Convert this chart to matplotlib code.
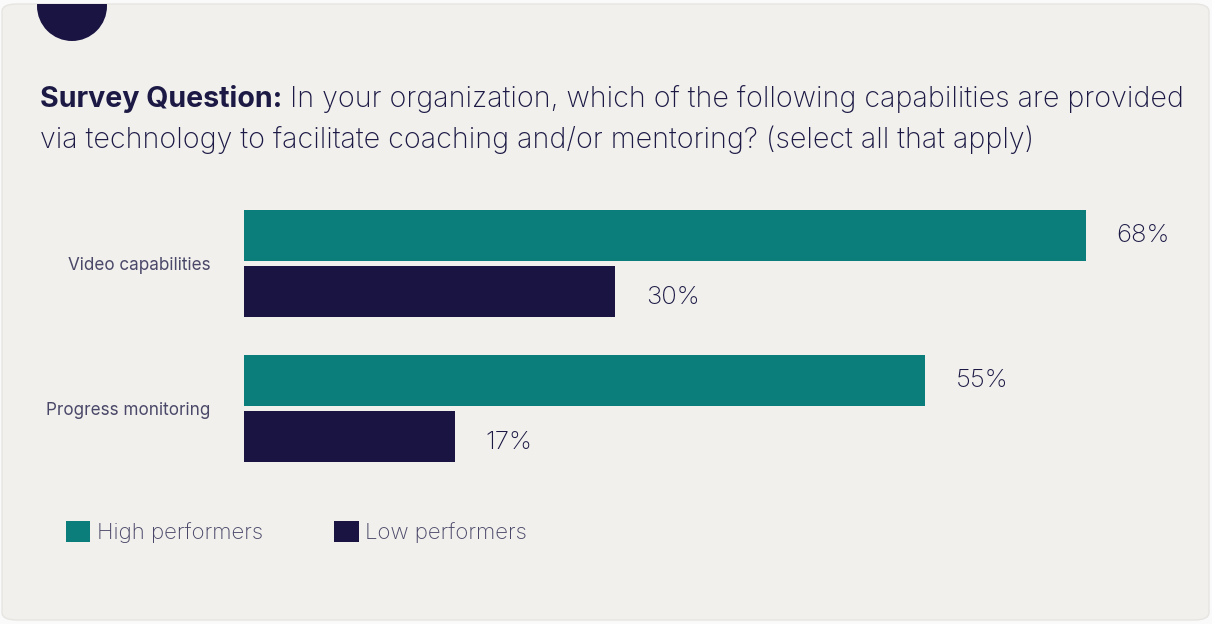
"""Survey chart: technology capabilities for coaching / mentoring, high vs low performers."""

import matplotlib.pyplot as plt
from matplotlib.patches import Ellipse, FancyBboxPatch, Patch

# ── Data ──────────────────────────────────────────────────────────────
categories = ["Video capabilities", "Progress monitoring"]
series_names = ["High performers", "Low performers"]
high_values = [68, 55]
low_values = [30, 17]

# ── Style ─────────────────────────────────────────────────────────────
TEAL = "#0b7d7a"
NAVY = "#1a1442"
TEXT = "#1c1a45"
SUBTEXT = "#4a4868"
CARD = "#f1f0ed"
FONT = ["Inter", "Roboto", "DejaVu Sans"]

plt.rcParams["font.family"] = FONT

W, H = 1212, 624
fig = plt.figure(figsize=(W / 100, H / 100), dpi=100)
fig.patch.set_facecolor("#fafafa")


def fx(px):
    return px / W


def fy(py):
    return 1 - py / H


# card background
card = FancyBboxPatch((fx(2), fy(620)), fx(1207), (616) / H,
                      boxstyle="round,pad=0,rounding_size=0.012",
                      transform=fig.transFigure, facecolor=CARD,
                      edgecolor="#e6e5e2", linewidth=1.0, zorder=0)
fig.add_artist(card)

dot = Ellipse((fx(72), fy(6)), fx(70), 70 / H, transform=fig.transFigure,
              facecolor=NAVY, edgecolor="none", zorder=1)
fig.add_artist(dot)
dot.set_clip_path(card)

# ── Title ─────────────────────────────────────────────────────────────
TITLE_FS = 20.6
t1 = fig.text(fx(40), fy(107), "Survey Question:", fontsize=TITLE_FS,
              fontweight="bold", color=TEXT, va="baseline")
fig.canvas.draw()
bb = t1.get_window_extent()
fig.text((bb.x1 + 8) / W, fy(107),
         "In your organization, which of the following capabilities are provided",
         fontsize=TITLE_FS, fontweight="light", color=TEXT, va="baseline")
fig.text(fx(40), fy(148),
         "via technology to facilitate coaching and/or mentoring? (select all that apply)",
         fontsize=TITLE_FS, fontweight="light", color=TEXT, va="baseline")

# ── Bars ──────────────────────────────────────────────────────────────
ax = fig.add_axes([fx(244), 1 - 481 / H, fx(1086 - 244), 290 / H])
ax.set_facecolor("none")
ax.set_xlim(0, 68)
ax.set_ylim(1.5, -0.5)

y = list(range(len(categories)))
bar_h = 0.352
off = 0.193
ax.barh([v - off for v in y], high_values, height=bar_h, color=TEAL)
ax.barh([v + off for v in y], low_values, height=bar_h, color=NAVY)

for i in y:
    ax.annotate(f"{high_values[i]}%", (high_values[i], i - off),
                xytext=(22, 0), textcoords="offset points", va="center",
                ha="left", fontsize=18.5, fontweight="light", color=TEXT,
                annotation_clip=False)
    ax.annotate(f"{low_values[i]}%", (low_values[i], i + off),
                xytext=(22, -4), textcoords="offset points", va="center",
                ha="left", fontsize=18.5, fontweight="light", color=TEXT,
                annotation_clip=False)

ax.set_yticks(y)
ax.set_yticklabels(categories, fontsize=12.3, color=SUBTEXT)
ax.tick_params(axis="y", length=0, pad=24)
ax.set_xticks([])
for s in ax.spines.values():
    s.set_visible(False)

# ── Legend ────────────────────────────────────────────────────────────
handles = [Patch(facecolor=TEAL, label=series_names[0]),
           Patch(facecolor=NAVY, label=series_names[1])]
leg = fig.legend(handles=handles, loc="center left",
                 bbox_to_anchor=(fx(46), fy(532)), ncol=2, frameon=False,
                 fontsize=16, handlelength=1.1, handleheight=1.1,
                 handletextpad=0.3, columnspacing=3.2)
for t in leg.get_texts():
    t.set_color(SUBTEXT)
    t.set_fontweight("light")

fig.savefig("out.png", dpi=100, facecolor=fig.get_facecolor())
